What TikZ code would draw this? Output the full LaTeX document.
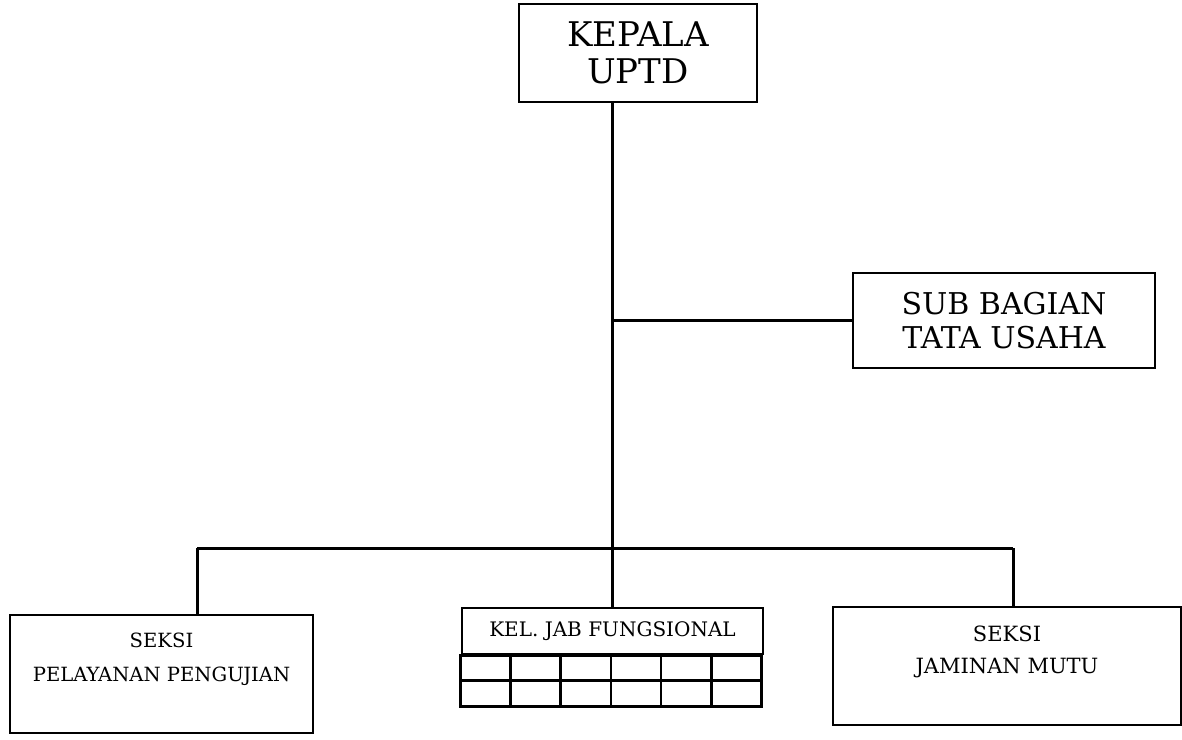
\documentclass[tikz,border=0pt]{standalone}
\usepackage{fontspec}
\setmainfont{DejaVu Serif}

\begin{document}
\begin{tikzpicture}[x=0.5pt,y=-0.5pt,
  unitbox/.style={draw,line width=1.4pt,inner sep=0pt,align=center},
  link/.style={line width=1.5pt}]
  \useasboundingbox (0,0) rectangle (1182,739);
  % head and staff
  \node[unitbox,minimum width=119pt,minimum height=49pt,
        font=\fontsize{17}{18.5}\selectfont] (kepala) at (638,53) {KEPALA\\UPTD};
  \node[unitbox,minimum width=151pt,minimum height=47.5pt,
        font=\fontsize{15}{17}\selectfont] (tatausaha) at (1004,320.5) {SUB BAGIAN\\TATA USAHA};
  % sections
  \node[unitbox,font=\fontsize{9.8}{11.5}\selectfont] (pelayanan) at (161.5,674)
    {\parbox[c][59pt][t]{151.5pt}{\centering\vspace*{9pt}SEKSI\\[5.5pt]PELAYANAN PENGUJIAN}};
  \node[unitbox,font=\fontsize{10.5}{12}\selectfont] (mutu) at (1007,666)
    {\parbox[c][59pt][t]{174pt}{\centering\vspace*{9.5pt}SEKSI\\[4pt]JAMINAN MUTU}};
  \node[unitbox,minimum width=150.5pt,minimum height=23pt,
        font=\fontsize{10}{12}\selectfont] (kelompok) at (612.5,631) {KEL. JAB FUNGSIONAL};
  % grid under the functional group
  \draw[line width=1.4pt] (kelompok.south west) rectangle ++(301,51);
  \draw[line width=1.4pt] (kelompok.south west) ++(0,25) -- ++(301,0);
  \foreach \c in {1,...,5}
    \draw[line width=1.4pt] (kelompok.south west) ++(\c*50.1,0) -- ++(0,51);
  % connectors
  \coordinate (busleft) at (197,548);
  \coordinate (busright) at (1013,548);
  \draw[link] (kelompok.north |- kepala.south) -- (kelompok.north);
  \draw[link] (tatausaha.west) -- (tatausaha.west -| kelompok.north);
  \draw[link] (busleft) -- (busright);
  \draw[link] (busleft) -- (busleft |- pelayanan.north);
  \draw[link] (busright) -- (busright |- mutu.north);
\end{tikzpicture}
\end{document}
